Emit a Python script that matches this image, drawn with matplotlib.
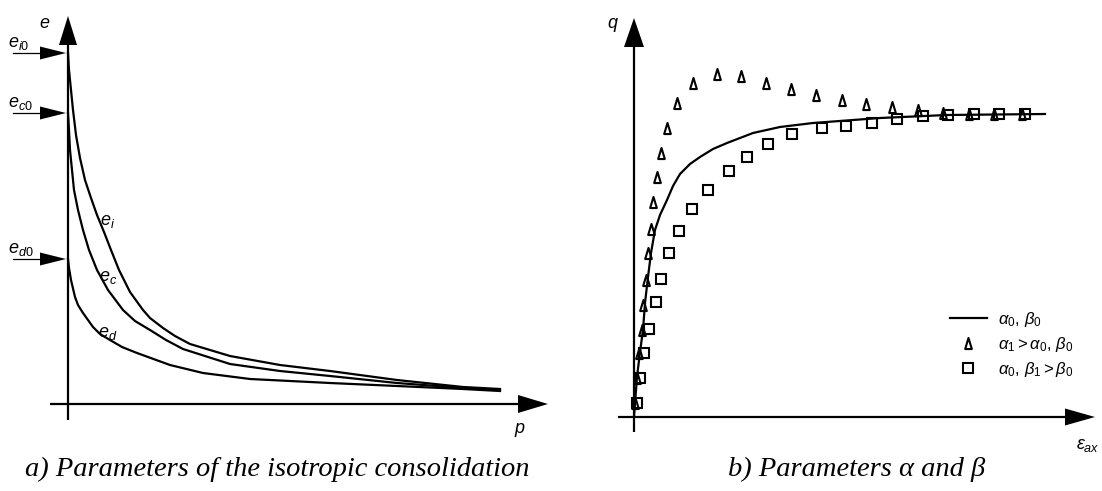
import matplotlib
matplotlib.use("Agg")
import matplotlib.pyplot as plt
from matplotlib.path import Path
from matplotlib.lines import Line2D

plt.rcParams['font.family'] = ['Liberation Sans', 'DejaVu Sans']
plt.rcParams['mathtext.fontset'] = 'custom'
plt.rcParams['mathtext.it'] = 'Liberation Sans:italic'
plt.rcParams['mathtext.rm'] = 'Liberation Sans'

# a) isotropic consolidation curves e(p)
p_i = [0, 0.1, 0.3, 0.5, 0.8, 1.2, 1.7, 2.3, 2.9, 3.6, 4.3, 5.1, 6.2, 7.5, 8.2, 9.5, 10.7, 12.2, 16.2, 21.2, 26.2, 32.9, 39.5, 43.2]
e_i = [3.51, 3.34, 3.14, 2.94, 2.69, 2.46, 2.24, 2.06, 1.89, 1.72, 1.54, 1.34, 1.12, 0.94, 0.86, 0.76, 0.68, 0.60, 0.48, 0.39, 0.33, 0.24, 0.17, 0.15]
p_c = [0, 0.1, 0.2, 0.4, 0.6, 1.0, 1.5, 2.1, 2.9, 4.0, 5.5, 6.7, 8.2, 9.8, 11.5, 16.2, 21.2, 26.2, 32.9, 39.5, 43.2]
e_c = [2.91, 2.74, 2.54, 2.34, 2.14, 1.94, 1.74, 1.54, 1.34, 1.14, 0.94, 0.83, 0.74, 0.64, 0.55, 0.40, 0.33, 0.28, 0.21, 0.16, 0.14]
p_d = [0, 0.1, 0.3, 0.7, 1.0, 1.5, 2.0, 2.5, 3.2, 4.2, 5.4, 6.9, 10.2, 13.5, 18.2, 26.2, 32.9, 39.5, 43.2]
e_d = [1.45, 1.36, 1.24, 1.07, 0.99, 0.91, 0.84, 0.77, 0.70, 0.64, 0.57, 0.51, 0.39, 0.31, 0.25, 0.21, 0.18, 0.15, 0.13]
e0_values = [3.51, 2.91, 1.45]
e0_labels = [r'$e_{i0}$', r'$e_{c0}$', r'$e_{d0}$']
curve_labels = [r'$e_i$', r'$e_c$', r'$e_d$']
curve_label_pos = [(4.0, 1.82), (4.0, 1.27), (4.0, 0.71)]

# b) triaxial curves q(eps_ax)
eps_0 = [0, 0.3, 0.6, 0.9, 1.1, 1.4, 1.7, 2.1, 2.6, 3.3, 3.9, 4.6, 5.6, 6.6, 7.9, 9.3, 11.9, 14.6, 17.9, 24.6, 31.3, 41.1]
q_0 = [0, 0.40, 0.65, 0.87, 1.14, 1.40, 1.64, 1.87, 2.02, 2.17, 2.31, 2.43, 2.53, 2.60, 2.68, 2.74, 2.84, 2.90, 2.94, 2.99, 3.02, 3.03]
eps_a = [0.1, 0.3, 0.5, 0.8, 0.9, 1.2, 1.4, 1.7, 1.9, 2.3, 2.7, 3.3, 4.3, 5.9, 8.3, 10.7, 13.2, 15.7, 18.2, 20.8, 23.2, 25.8, 28.4, 30.9, 33.5, 36.0, 38.8]
q_a = [0.14, 0.39, 0.64, 0.87, 1.12, 1.37, 1.64, 1.88, 2.15, 2.40, 2.64, 2.89, 3.14, 3.34, 3.43, 3.41, 3.34, 3.28, 3.22, 3.17, 3.13, 3.10, 3.07, 3.04, 3.03, 3.03, 3.03]
eps_b = [0.3, 0.6, 1.0, 1.5, 2.2, 2.7, 3.5, 4.5, 5.8, 7.4, 9.5, 11.3, 13.4, 15.8, 18.8, 21.2, 23.8, 26.3, 28.9, 31.4, 34.0, 36.5, 39.1]
q_b = [0.14, 0.39, 0.64, 0.88, 1.15, 1.38, 1.64, 1.86, 2.08, 2.27, 2.46, 2.60, 2.73, 2.83, 2.89, 2.91, 2.94, 2.98, 3.01, 3.02, 3.03, 3.03, 3.03]
legend_labels = [r'$\alpha_0,\,\beta_0$', r'$\alpha_1 > \alpha_0,\,\beta_0$', r'$\alpha_0,\,\beta_1 > \beta_0$']

LW = 1.6
# slim open triangle
tri = Path([(-0.3, -0.5), (0.3, -0.5), (0.0, 0.5), (-0.3, -0.5)],
           [Path.MOVETO, Path.LINETO, Path.LINETO, Path.CLOSEPOLY])


def arrow_axes(ax, x0, x1, xtip, y0, y1, ytip, hw_x, hw_y):
    # horizontal axis with filled head
    ax.plot([x0, x1], [0, 0], color='k', lw=LW, solid_capstyle='butt')
    ax.fill([x1, xtip, x1], [-hw_y, 0, hw_y], color='k', lw=0)
    # vertical axis with filled head
    ax.plot([0, 0], [y0, y1], color='k', lw=LW, solid_capstyle='butt')
    ax.fill([-hw_x, 0, hw_x], [y1, ytip, y1], color='k', lw=0)


fig = plt.figure(figsize=(11.02, 4.91), dpi=100)

# ---- left panel ----
ax1 = fig.add_axes([0, 0, 560 / 1102, 1])
ax1.set_xlim(-6.8, 49.2)
ax1.set_ylim(-0.87, 4.04)
ax1.axis('off')
arrow_axes(ax1, -1.8, 45.0, 48.0, -0.16, 3.59, 3.88, 0.9, 0.09)

for p, e in [(p_i, e_i), (p_c, e_c), (p_d, e_d)]:
    ax1.plot(p, e, color='k', lw=LW, solid_joinstyle='round')

for e0, lab in zip(e0_values, e0_labels):
    ax1.plot([-5.5, -2.8], [e0, e0], color='k', lw=0.9)
    ax1.fill([-2.8, -0.2, -2.8], [e0 - 0.065, e0, e0 + 0.065], color='k', lw=0)
    ax1.text(-6.0, e0 + 0.10, lab, fontsize=13, ha='left', va='center')

for (x, y), lab in zip(curve_label_pos, curve_labels):
    ax1.text(x, y, lab, fontsize=13, ha='center', va='center')

ax1.text(-2.3, 3.81, r'$e$', fontsize=13, ha='center', va='center')
ax1.text(45.2, -0.26, r'$p$', fontsize=13, ha='center', va='center')

# ---- right panel ----
ax2 = fig.add_axes([560 / 1102, 0, 542 / 1102, 1])
ax2.set_xlim(-7.4, 46.8)
ax2.set_ylim(-0.74, 4.17)
ax2.axis('off')
arrow_axes(ax2, -1.6, 43.1, 46.1, -0.15, 3.70, 3.99, 1.0, 0.085)

ax2.plot(eps_0, q_0, color='k', lw=LW)
ax2.plot(eps_a, q_a, ls='none', marker=tri, ms=8, mfc='none', mec='k', mew=1.5)
ax2.plot(eps_b, q_b, ls='none', marker='s', ms=7, mfc='none', mec='k', mew=1.5)

ax2.text(-2.1, 3.92, r'$q$', fontsize=13, ha='center', va='center')
ax2.text(45.4, -0.28, r'$\varepsilon_{ax}$', fontsize=13, ha='center', va='center')

handles = [Line2D([], [], color='k', lw=LW),
           Line2D([], [], ls='none', marker=tri, ms=8, mfc='none', mec='k', mew=1.5),
           Line2D([], [], ls='none', marker='s', ms=7, mfc='none', mec='k', mew=1.5)]
ax2.legend(handles, legend_labels, loc='upper left', bbox_to_anchor=(31.6, 1.07),
           bbox_transform=ax2.transData, frameon=False, fontsize=12,
           handlelength=2.2, handletextpad=0.7, labelspacing=0.35,
           borderpad=0, borderaxespad=0)

# captions
cap = dict(family='Liberation Serif', style='italic', fontsize=20.5, ha='center', va='center')
fig.text(277 / 1102, 1 - 469 / 491, 'a) Parameters of the isotropic consolidation', **cap)
fig.text(857 / 1102, 1 - 469 / 491, 'b) Parameters α and β', **cap)

fig.savefig('out.png', dpi=100)
